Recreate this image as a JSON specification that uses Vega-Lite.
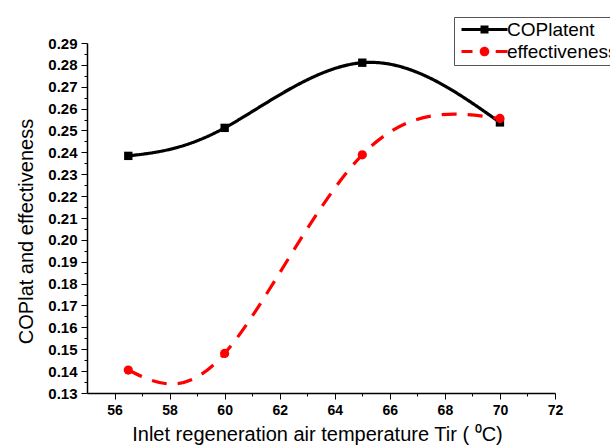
{
  "$schema": "https://vega.github.io/schema/vega-lite/v6.json",
  "autosize": "none",
  "width": 468,
  "height": 350,
  "padding": {"left": 87, "top": 43, "right": 55, "bottom": 53},
  "background": "white",
  "config": {
    "view": {"stroke": null},
    "font": "Liberation Sans",
    "axis": {
      "domainColor": "black",
      "domainWidth": 1.5,
      "tickColor": "black",
      "tickWidth": 1,
      "labelColor": "black",
      "labelFont": "Liberation Sans",
      "labelFontWeight": "bold",
      "grid": false,
      "titleColor": "black",
      "titleFont": "Liberation Sans",
      "titleFontWeight": "normal",
      "titleFontSize": 20
    }
  },
  "data": {
    "values": [
      {"series": "COPlatent", "T": 56.5, "v": 0.2384},
      {"series": "COPlatent", "T": 60, "v": 0.2512},
      {"series": "COPlatent", "T": 65, "v": 0.281},
      {"series": "COPlatent", "T": 70, "v": 0.2537},
      {"series": "effectiveness", "T": 56.5, "v": 0.1405},
      {"series": "effectiveness", "T": 60, "v": 0.1481},
      {"series": "effectiveness", "T": 65, "v": 0.2389},
      {"series": "effectiveness", "T": 70, "v": 0.2555}
    ]
  },
  "encoding": {
    "x": {
      "field": "T", "type": "quantitative",
      "scale": {"domain": [55, 72], "nice": false, "zero": false},
      "axis": {
        "values": [56,57,58,59,60,61,62,63,64,65,66,67,68,69,70,71,72],
        "labelExpr": "datum.value % 2 === 0 ? datum.label : ''",
        "tickSize": {"condition": {"test": "datum.value % 2 === 0", "value": 6}, "value": 3},
        "labelFontSize": 14,
        "labelPadding": 4,
        "labelFlush": false,
        "labelOverlap": false,
        "title": "Inlet regeneration air temperature Tir (  ⁰C)",
        "titleBaseline": "alphabetic",
        "titleX": 230,
        "titleY": 47
      }
    },
    "y": {
      "field": "v", "type": "quantitative",
      "scale": {"domain": [0.13, 0.29], "nice": false, "zero": false},
      "axis": {
        "values": [0.13,0.135,0.14,0.145,0.15,0.155,0.16,0.165,0.17,0.175,0.18,0.185,0.19,0.195,0.2,0.205,0.21,0.215,0.22,0.225,0.23,0.235,0.24,0.245,0.25,0.255,0.26,0.265,0.27,0.275,0.28,0.285,0.29],
        "labelExpr": "round(datum.value*200) % 2 === 0 ? format(datum.value, '.2f') : ''",
        "tickSize": {"condition": {"test": "round(datum.value*200) % 2 === 0", "value": 6}, "value": 3},
        "labelFontSize": 15,
        "labelPadding": 4,
        "labelFlush": false,
        "labelOverlap": false,
        "title": "COPlat and effectiveness",
        "titleAngle": 270,
        "titleAlign": "center",
        "titleBaseline": "alphabetic",
        "titleX": -55,
        "titleY": 188
      }
    }
  },
  "layer": [
    {
      "mark": {"type": "line", "interpolate": "natural", "strokeWidth": 3.2},
      "encoding": {
        "color": {
          "field": "series", "type": "nominal",
          "scale": {"domain": ["COPlatent", "effectiveness"], "range": ["black", "#ff0000"]},
          "legend": {
            "orient": "none",
            "legendX": 367,
            "legendY": -26,
            "title": null,
            "strokeColor": "#555555",
            "padding": 3,
            "symbolSize": 64,
            "symbolStrokeWidth": 0,
            "labelOffset": 31,
            "labelFont": "Liberation Sans",
            "labelFontSize": 19,
            "labelColor": "black",
            "rowPadding": 2,
            "encode": {
              "symbols": {
                "update": {
                  "shape": {"signal": "datum.value === 'COPlatent' ? 'M-1.25,-0.4H10.25V0.4H-1.25Z M3.5,-1H5.5V1H3.5Z' : 'M-1.25,-0.4H1.5V0.4H-1.25Z M3.3,0A1.2,1.2,0,1,1,5.7,0A1.2,1.2,0,1,1,3.3,0Z M7.3,-0.4H10.25V0.4H7.3Z'"},
                  "fill": {"signal": "datum.value === 'COPlatent' ? 'black' : '#ff0000'"},
                  "fillOpacity": {"value": 1},
                  "stroke": {"value": "transparent"},
                  "strokeDash": {"value": [1, 0]}
                }
              }
            }
          }
        },
        "strokeDash": {
          "field": "series", "type": "nominal",
          "scale": {"domain": ["COPlatent", "effectiveness"], "range": [[1, 0], [15, 11]]},
          "legend": null
        }
      }
    },
    {
      "transform": [{"filter": "datum.series === 'COPlatent'"}],
      "mark": {"type": "point", "shape": "square", "filled": true, "opacity": 1, "size": 70},
      "encoding": {
        "color": {"field": "series", "type": "nominal", "legend": null}
      }
    },
    {
      "transform": [{"filter": "datum.series === 'effectiveness'"}],
      "mark": {"type": "point", "shape": "circle", "filled": true, "opacity": 1, "size": 85},
      "encoding": {
        "color": {"field": "series", "type": "nominal", "legend": null}
      }
    }
  ]
}
